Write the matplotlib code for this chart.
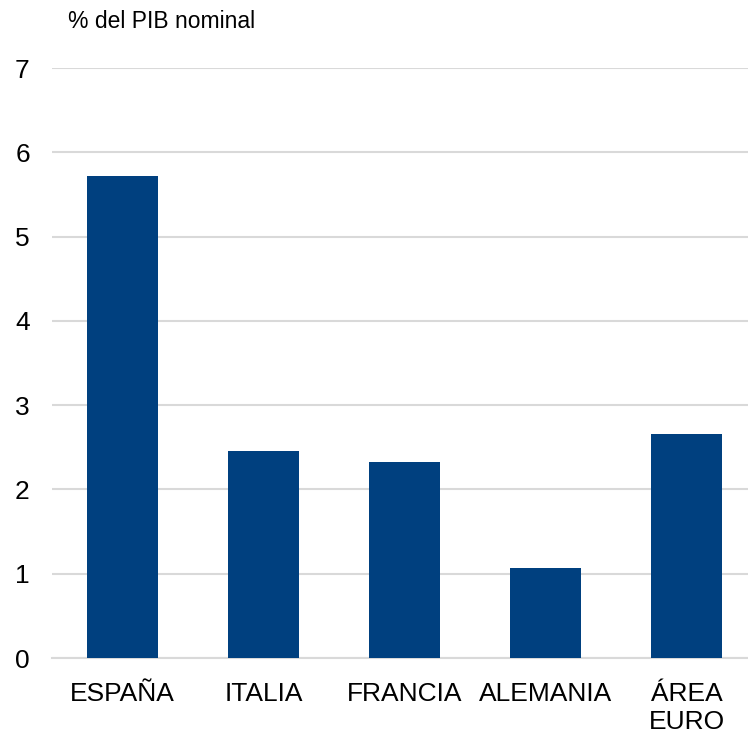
import matplotlib.pyplot as plt

plt.rcParams['font.family'] = ['Liberation Sans', 'DejaVu Sans']

paises = ['ESPAÑA', 'ITALIA', 'FRANCIA', 'ALEMANIA', 'ÁREA\nEURO']
valores = [5.72, 2.46, 2.32, 1.07, 2.66]
yticks = [0, 1, 2, 3, 4, 5, 6, 7]

fig = plt.figure(figsize=(7.48, 7.36), dpi=100)
ax = fig.add_axes([52 / 748, 1 - 658 / 736, 1 - 52 / 748, (658 - 68) / 736])

x = list(range(len(paises)))
ax.bar(x, valores, width=0.5, color='#00407f', zorder=3)

ax.set_ylim(0, 7)
ax.set_xlim(-0.5, 4.436)
ax.set_yticks(yticks)
ax.set_yticklabels([str(t) for t in yticks])
ax.set_xticks(x)
ax.set_xticklabels(paises, linespacing=1.25)
ax.grid(axis='y', color='#d9d9d9', linewidth=1.5, zorder=0)
ax.tick_params(axis='y', length=0, pad=16, labelsize=19)
ax.tick_params(axis='x', length=0, pad=17, labelsize=19)
for s in ['top', 'right', 'left']:
    ax.spines[s].set_visible(False)
ax.spines['bottom'].set_color('#d9d9d9')
ax.spines['bottom'].set_linewidth(1.5)

fig.text(68 / 748, 1 - 22 / 736, '% del PIB nominal', fontsize=16.5, va='center', ha='left')

fig.savefig('out.png', dpi=100)
